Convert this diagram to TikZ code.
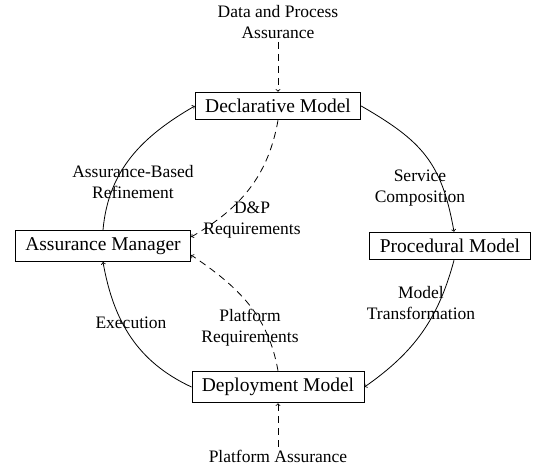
\documentclass[tikz,border=0pt]{standalone}
\usepackage{fontspec}
\setmainfont{Liberation Serif}
\begin{document}
\begin{tikzpicture}[x=1pt,y=1pt,
  box/.style={draw, line width=0.8pt, font=\fontsize{19.5}{23}\selectfont, inner xsep=10pt, inner ysep=7pt},
  lbl/.style={font=\fontsize{17.5}{21}\selectfont, align=center, inner sep=3pt},
  flow/.style={->, line width=0.8pt},
  req/.style={->, line width=0.8pt, dash pattern=on 7pt off 5pt}]
\useasboundingbox (0,0) rectangle (540,-469);
\node[box] (decl) at (278,-106) {Declarative Model};
\node[box] (proc) at (450,-246) {Procedural Model};
\node[box] (am) at (103,-246) {Assurance Manager};
\node[box] (dep) at (278,-387) {Deployment Model};
\node[lbl] (dpa) at (278,-22) {Data and Process\\Assurance};
\node[lbl] (pa) at (278,-456) {Platform Assurance};
\node[lbl] (l1) at (133,-182) {Assurance-Based\\Refinement};
\node[lbl] (l2) at (252,-220) {D\&P\\Requirements};
\node[lbl] (l3) at (420,-188) {Service\\Composition};
\node[lbl] (l4) at (421,-303) {Model\\Transformation};
\node[lbl] (l5) at (131,-323) {Execution};
\node[lbl] (l6) at (250,-328) {Platform\\Requirements};
\draw[flow] (am.north) to[out=85,in=210] (decl.west);
\draw[flow] (decl.east) to[out=-30,in=100,looseness=1.15] ([xshift=4pt]proc.north);
\draw[flow] ([xshift=4pt]proc.south) to[out=-105,in=35] (dep.east);
\draw[flow] (dep.west) to[out=155,in=-80] (am.south);
\draw[req] (dpa) -- (decl);
\draw[req] (pa) -- (dep);
\draw[req] (decl.south) to[out=-100,in=30] ([yshift=9pt]am.east);
\draw[req] (dep.north) to[out=100,in=-34] ([yshift=-9pt]am.east);
\end{tikzpicture}
\end{document}
